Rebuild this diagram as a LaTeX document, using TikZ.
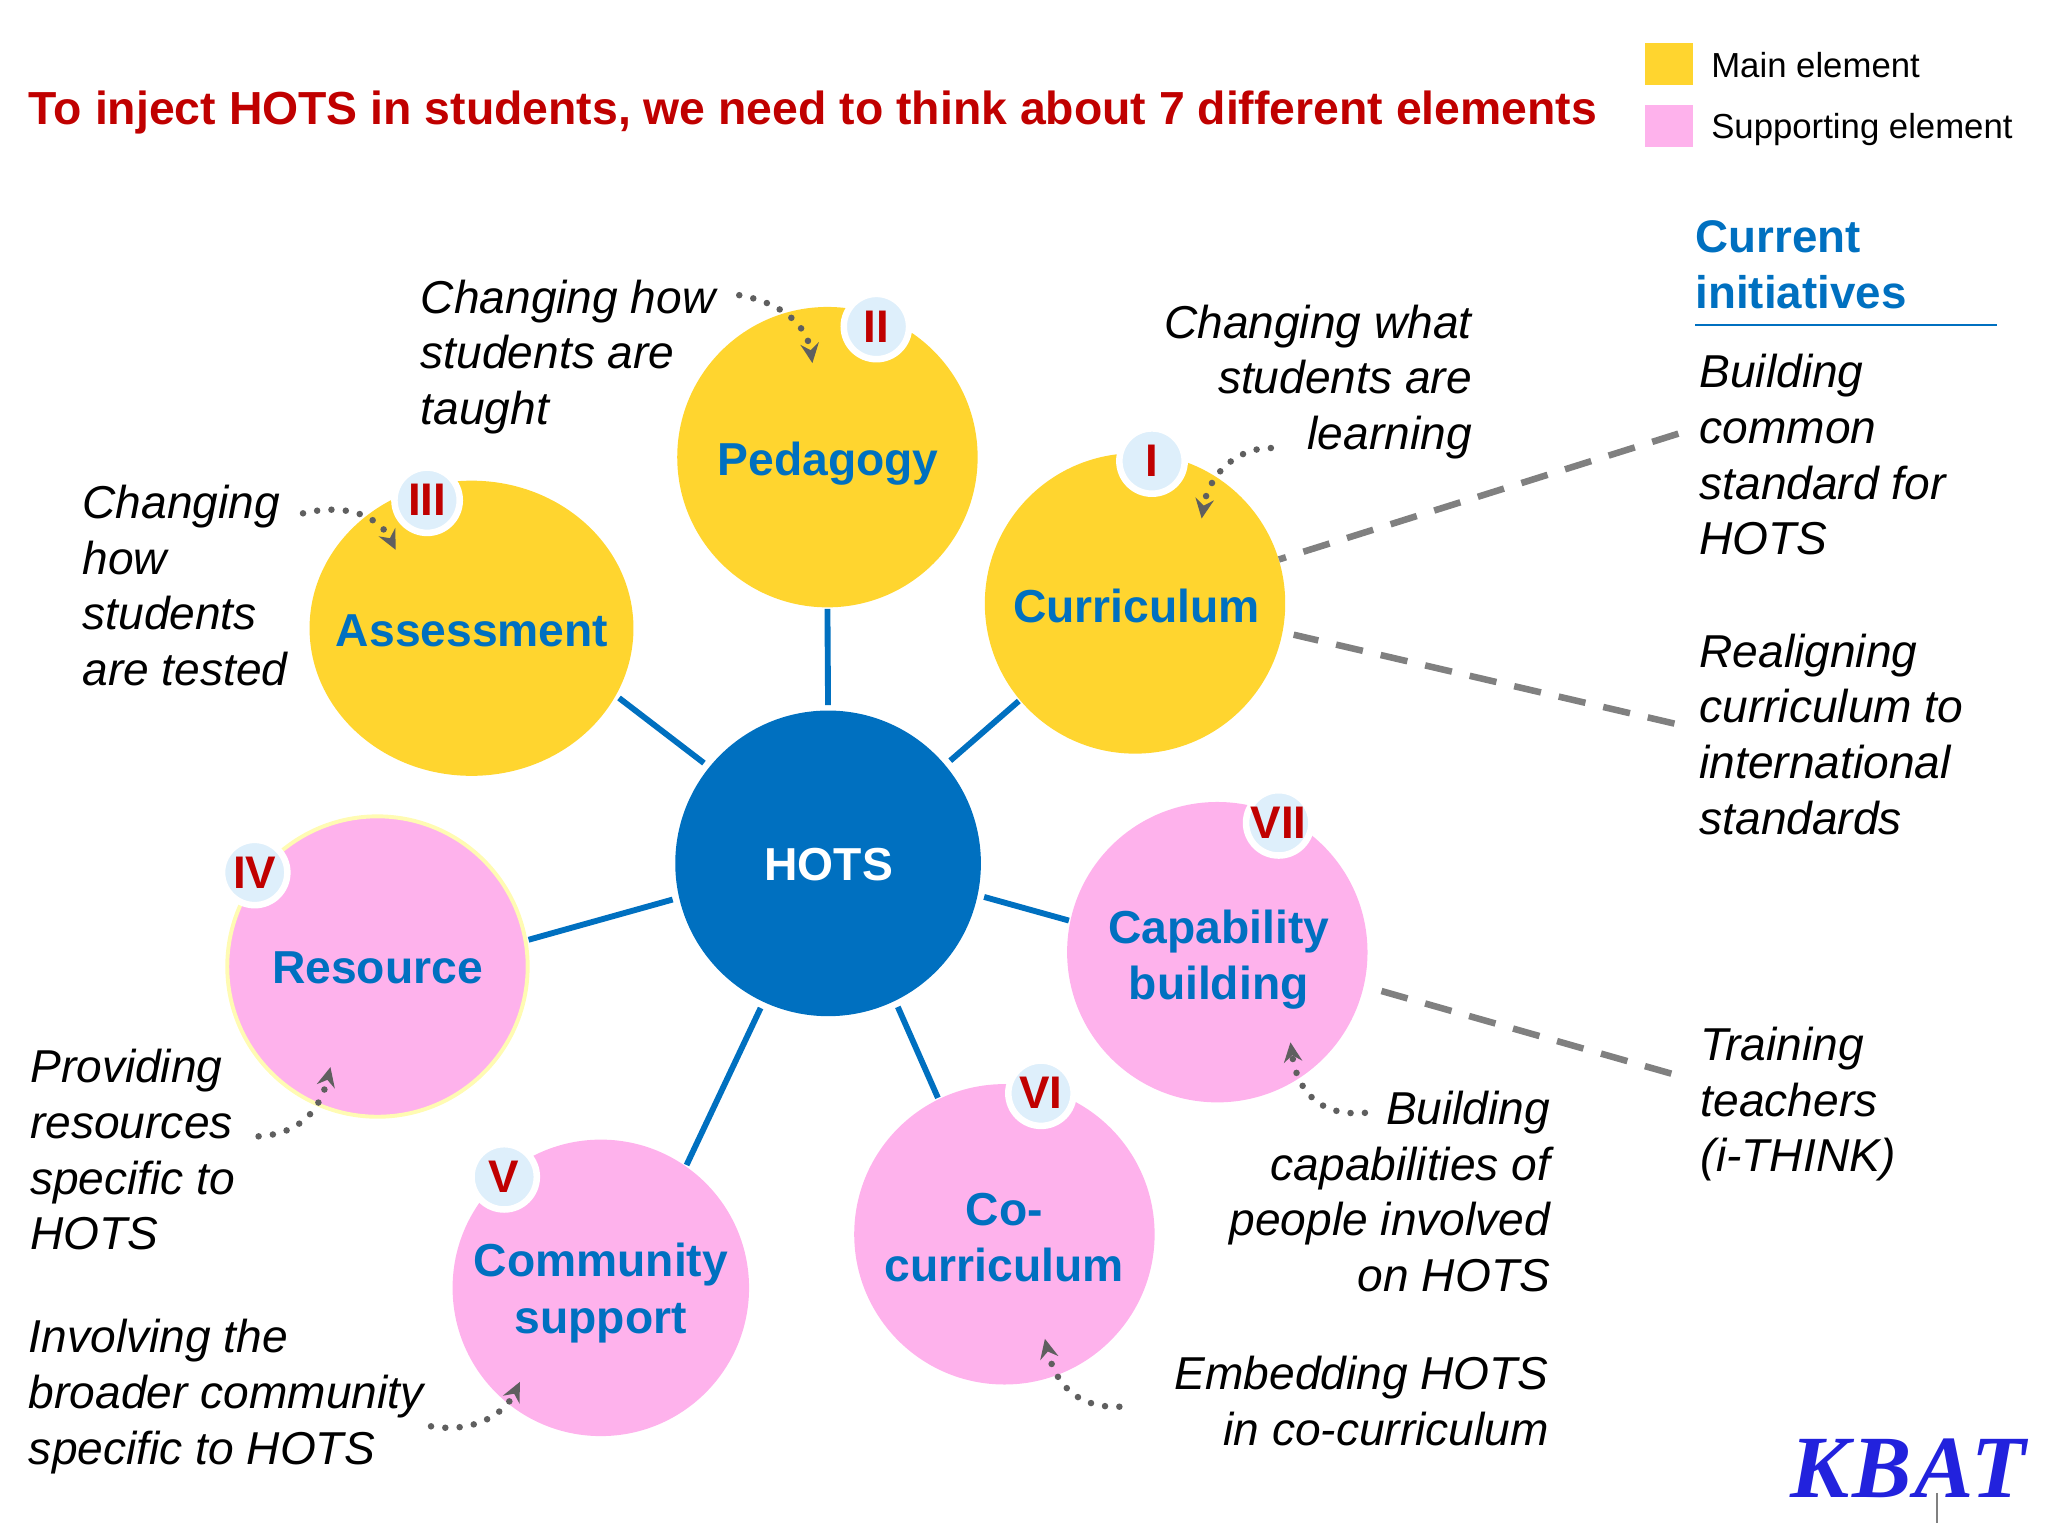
\documentclass[tikz,border=0pt]{standalone}
\usepackage{fontspec}
\setmainfont{Liberation Sans}
\newfontfamily\kbatfont[LetterSpace=3]{Liberation Serif}
\usetikzlibrary{shapes.geometric,arrows.meta}
\definecolor{ymain}{HTML}{FFD52F}
\definecolor{psup}{HTML}{FEB2EC}
\definecolor{bluem}{HTML}{0070C0}
\definecolor{redt}{HTML}{C00000}
\definecolor{badgeb}{HTML}{DEEFFB}
\definecolor{dashg}{HTML}{808080}
\definecolor{dotg}{HTML}{5F5F5F}
\definecolor{logob}{HTML}{2222DD}
\tikzset{
  disc/.style={circle,inner sep=0pt},
  mainel/.style={disc,fill=ymain,minimum size=230pt},
  supel/.style={disc,fill=psup,minimum size=230pt},
  hub/.style={disc,fill=bluem,minimum size=234pt},
  elabel/.style={inner sep=0pt,align=center,text=bluem,font=\fontsize{35.4}{43}\selectfont\bfseries},
  badge/.style={circle,inner sep=0pt,fill=badgeb,draw=white,line width=5pt,minimum size=50pt,text=redt,font=\fontsize{35}{35}\selectfont\bfseries},
  spoke/.style={draw=bluem,line width=4.5pt},
  dashc/.style={draw=dashg,line width=5pt,dash pattern=on 21pt off 14pt},
  dotc/.style={draw=dotg,line width=5pt,line cap=round,dash pattern=on 0pt off 11pt,-{Stealth[length=15pt,width=14pt,inset=5pt]}},
  note/.style={inner sep=0pt,font=\fontsize{35.3}{42.7}\selectfont\itshape},
  noteL/.style={note,align=left},
  noteR/.style={note,align=right},
  legendbox/.style={minimum width=37pt,minimum height=32pt,inner sep=0pt,anchor=north west},
  legendtxt/.style={inner sep=0pt,anchor=west,font=\fontsize{26.6}{32}\selectfont},
}
\begin{document}
\begin{tikzpicture}[x=1pt,y=-1pt]
\useasboundingbox (0,0) rectangle (1568,1176);
% Title and legend
\node[inner sep=0pt,anchor=west,text=redt,font=\fontsize{35.5}{40}\selectfont\bfseries] (title) at (22,86.5) {To inject HOTS in students, we need to think about 7 different elements};
\node[legendbox,fill=ymain] (lg1) at (1259,33) {};
\node[legendbox,fill=psup] (lg2) at (1259,80) {};
\node[legendtxt] (lt1) at (1310,50) {Main element};
\node[legendtxt] (lt2) at (1310,99.5) {Supporting element};
% Current initiatives
\node[inner sep=0pt,anchor=north west,align=left,text=bluem,font=\fontsize{35}{43}\selectfont\bfseries] (ci) at (1298,168.5) {Current\\initiatives};
\coordinate (ulA) at (1298,249);
\coordinate (ulB) at (1529,249);
\draw[bluem,line width=1.6pt] (ulA) -- (ulB);
% Hub and elements
\node[hub] (hots) at (634,661) {};
\node[mainel] (ped) at (633.5,350) {};
\node[mainel] (cur) at (869,462) {};
\node[ellipse,inner sep=0pt,fill=ymain,minimum width=248pt,minimum height=226pt] (ass) at (361,481) {};
\node[supel,draw=yellow!30,line width=3pt] (res) at (289,740) {};
\node[supel,minimum size=227pt] (com) at (460,986) {};
\node[supel] (coc) at (769,945) {};
\node[supel] (cap) at (932,729) {};
% Element labels
\node[elabel,text=white] (hotsL) at (634.5,662) {HOTS};
\node[elabel] (pedL) at (634,355) {Pedagogy};
\node[elabel] (curL) at (870,464) {Curriculum};
\node[elabel] (assL) at (361.5,483) {Assessment};
\node[elabel] (resL) at (289,741) {Resource};
\node[elabel] (comL) at (460,990) {Community\\support};
\node[elabel] (cocL) at (769,947.5) {Co-\\curriculum};
\node[elabel] (capL) at (933,734.5) {Capability\\building};
% Spokes
\draw[spoke,shorten <=4pt,shorten >=1pt] (hots.90) -- (ped.-90);
\draw[spoke,shorten <=5pt,shorten >=1pt] (hots.40.3) -- (cur.220.4);
\draw[spoke,shorten <=5pt,shorten >=3pt] (hots.141.3) -- (ass.-25);
\draw[spoke,shorten <=5pt,shorten >=1pt] (hots.193.8) -- (res.10.8);
\draw[spoke,shorten <=5pt,shorten >=1pt] (hots.-115.7) -- (com.55.6);
\draw[spoke,shorten <=5pt,shorten >=1pt] (hots.-64.9) -- (coc.116);
\draw[spoke,shorten <=5pt,shorten >=1pt] (hots.-12.8) -- (cap.168);
% Badges
\node[badge] (b2) at (671,250) {II};
\node[badge] (b1) at (882,353) {I};
\node[badge] (b3) at (327,383) {III};
\node[badge] (b4) at (195,668) {IV};
\node[badge] (b5) at (386,901) {V};
\node[badge] (b6) at (797,837) {VI};
\node[badge] (b7) at (979,630) {VII};
% Notes
\node[noteL,anchor=north west] (n2) at (322,214) {Changing how\\students are\\taught};
\node[noteR,anchor=north east] (n1) at (1127,233) {Changing what\\students are\\learning};
\node[noteL,anchor=north west] (n3) at (63,371) {Changing\\how\\students\\are tested};
\node[noteL,anchor=north west] (n4) at (23,803) {Providing\\resources\\specific to\\HOTS};
\node[noteL,anchor=north west] (n5) at (22,1010) {Involving the\\broader community\\specific to HOTS};
\node[noteR,anchor=north east] (n6) at (1186,1038) {Embedding HOTS\\in co-curriculum};
\node[noteR,anchor=north east] (n7) at (1187,835) {Building\\capabilities of\\people involved\\on HOTS};
\node[noteL,anchor=north west] (i1) at (1301,271) {Building\\common\\standard for\\HOTS};
\node[noteL,anchor=north west] (i2) at (1301,485) {Realigning\\curriculum to\\international\\standards};
\node[noteL,anchor=north west] (i3) at (1302,786) {Training\\teachers\\(i-THINK)};
% Dashed connectors
\coordinate (d1) at (1285,332);
\coordinate (d2) at (1282,554);
\coordinate (d3) at (1279.6,822);
\draw[dashc] (d1) -- (cur.17);
\draw[dashc,shorten >=8.6pt] (d2) -- (cur.-11.7);
\draw[dashc,shorten >=14pt] (d3) -- (cap.-13.9);
% Dotted pointers
\coordinate (s2) at (566,226); \coordinate (t2) at (622,278);
\coordinate (s1) at (973,343); \coordinate (t1) at (920,397);
\coordinate (s3) at (232,393); \coordinate (t3) at (303,421);
\coordinate (s4) at (198,870); \coordinate (t4) at (253,817);
\coordinate (s5) at (330,1092); \coordinate (t5) at (398,1058);
\coordinate (s6) at (857,1077); \coordinate (t6) at (800,1025);
\coordinate (s7) at (1045,852); \coordinate (t7) at (988,798);
\draw[dotc] (s2) .. controls (600,232) and (618,250) .. (t2);
\draw[dotc] (s1) .. controls (945,343) and (925,365) .. (t1);
\draw[dotc] (s3) .. controls (265,385) and (290,395) .. (t3);
\draw[dotc] (s4) .. controls (230,868) and (245,850) .. (t4);
\draw[dotc] (s5) .. controls (360,1097) and (385,1085) .. (t5);
\draw[dotc] (s6) .. controls (825,1078) and (808,1060) .. (t6);
\draw[dotc] (s7) .. controls (1010,855) and (993,835) .. (t7);
% Logo
\node[inner sep=0pt,text=logob,font=\kbatfont\fontsize{68}{68}\selectfont\bfseries\itshape] (kbat) at (1461,1124) {KBAT};
\coordinate (cA) at (1483,1143);
\coordinate (cB) at (1483,1166);
\draw[dashg,line width=1.5pt] (cA) -- (cB);
\end{tikzpicture}
\end{document}
